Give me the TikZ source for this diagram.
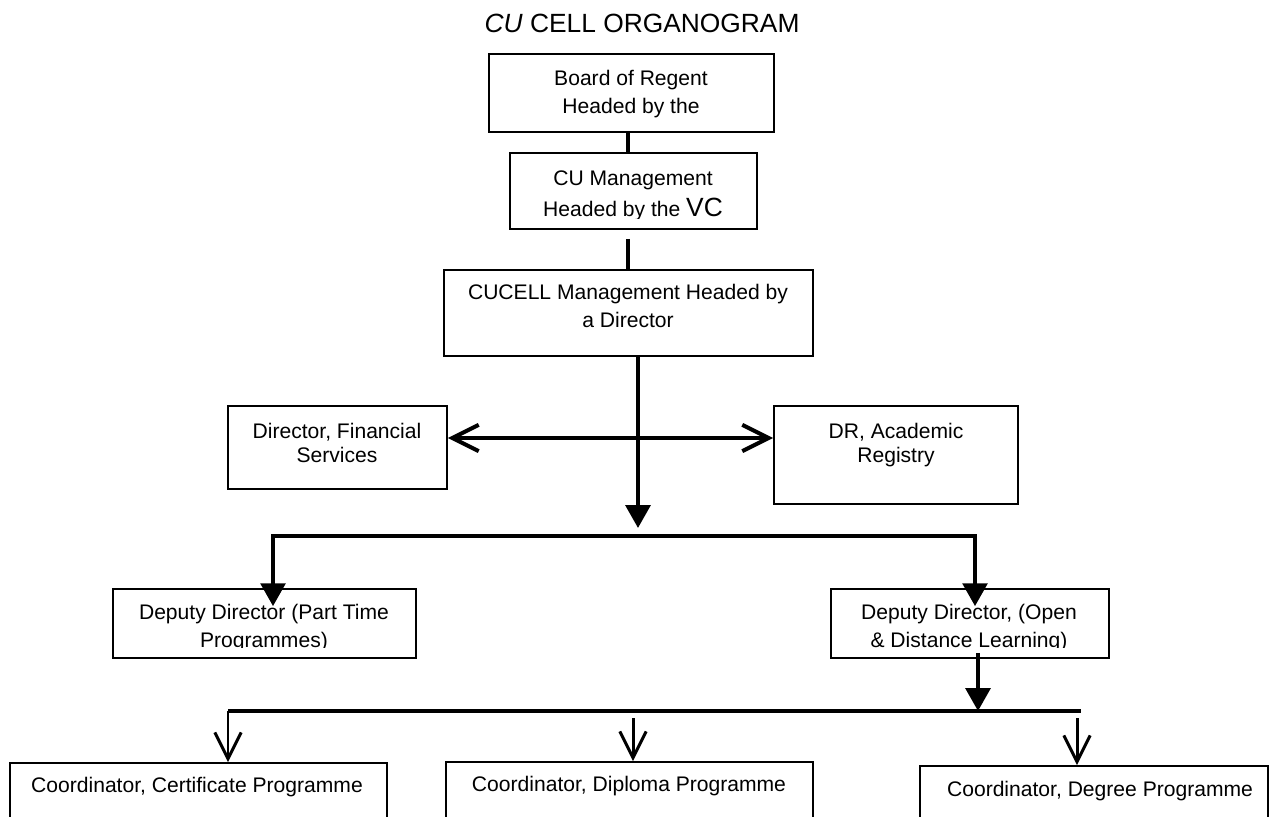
\documentclass[tikz,border=0pt]{standalone}
\usepackage{fontspec}
\setmainfont{Liberation Sans}
\usetikzlibrary{arrows.meta,fit,calc}

\begin{document}
\begin{tikzpicture}[x=0.02cm, y=-0.02cm,
    orgbox/.style={draw, line width=1pt, inner sep=0pt},
    txt/.style={align=center, inner sep=0pt, font=\fontsize{12}{15.5}\selectfont},
    conn/.style={line width=2.3pt},
    subconn/.style={line width=1.7pt},
    tri/.style={-{Triangle[length=13pt,width=14pt]}},
    bitri/.style={{Triangle[length=13pt,width=14pt]}-{Triangle[length=13pt,width=14pt]}},
    barb/.style={-{Straight Barb[length=15pt,width=15pt]}},
    bibarb/.style={{Straight Barb[length=15pt,width=15pt]}-{Straight Barb[length=15pt,width=15pt]}}]
    \useasboundingbox (0,0) rectangle (1270,816);
    \clip (0,0) rectangle (1270,816);
    \node[inner sep=0pt, font=\fontsize{15}{18}\selectfont] (title) at (642,23) {\textit{CU} CELL ORGANOGRAM};
    % boxes
    \node[orgbox, fit={(489,54) (774,132)}] (board) {};
    \node[orgbox, fit={(510,153) (757,229)}] (cumgmt) {};
    \node[orgbox, fit={(444,270) (813,356)}] (cucell) {};
    \node[orgbox, fit={(228,406) (447,489)}] (finbox) {};
    \node[orgbox, fit={(774,406) (1018,504)}] (drbox) {};
    \node[orgbox, fit={(113,589) (416,658)}] (ptbox) {};
    \node[orgbox, fit={(831,589) (1109,658)}] (odlbox) {};
    \node[orgbox, fit={(10,763) (387,830)}] (certbox) {};
    \node[orgbox, fit={(446,762) (813,830)}] (dipbox) {};
    \node[orgbox, fit={(920,766) (1268,830)}] (degbox) {};
    % texts
    \node[txt] (boardtxt) at (631,94) {Board of Regent\\Headed by the};
    \begin{scope}
      \clip (510,153) rectangle (757,218);
      \node[txt] (cumgmttxt) at (633,196) {CU Management\\[2.5pt]Headed by the {\fontsize{15}{18}\selectfont VC}};
    \end{scope}
    \node[txt] (cuceltxt) at (628,306) {CUCELL Management Headed by\\a Director};
    \node[txt, font=\fontsize{12}{14}\selectfont] (fintxt) at (337,443) {Director, Financial\\Services};
    \node[txt, font=\fontsize{12}{14}\selectfont] (drtxt) at (896,445) {DR, Academic\\Registry};
    \begin{scope}
      \clip (113,589) rectangle (1109,647.5);
      \node[txt] (pttxt) at (264,628) {Deputy Director (Part Time\\Programmes)};
      \node[txt] (odltxt) at (969,628) {Deputy Director, (Open\\\& Distance Learning)};
    \end{scope}
    \node[txt] (certtxt) at (197,787) {Coordinator, Certificate Programme};
    \node[txt] (diptxt) at (629,786) {Coordinator, Diploma Programme};
    \node[txt] (degtxt) at (1100,791) {Coordinator, Degree Programme};
    % connectors
    \coordinate (stem) at (628,0);
    \coordinate (split) at (638,528);
    \coordinate (hub) at (638,438);
    \coordinate (busL) at (273,536);
    \coordinate (busR) at (975,536);
    \coordinate (bustwoL) at (228,711);
    \coordinate (bustwoR) at (1081,711);
    \coordinate (odlout) at ($(odlbox.south)+(8,-6)$);
    \coordinate (dipin) at (633,718);
    \coordinate (degin) at (1077,718);
    \draw[conn] (board.south -| stem) -- (cumgmt.north -| stem);
    \draw[conn] ($(cumgmt.south -| stem)+(0,9)$) -- (cucell.north -| stem);
    \draw[conn, tri] (cucell.south -| split) -- (split);
    \draw[conn, bibarb] (finbox.east |- hub) -- (drbox.west |- hub);
    \draw[conn, bitri] ($(busL |- ptbox.north)+(0,18)$) -- (busL) -- (busR) -- ($(busR |- odlbox.north)+(0,18)$);
    \draw[conn, tri] (odlout) -- (odlout |- bustwoL);
    \draw[conn] (bustwoL) -- (bustwoR);
    \draw[subconn, barb] (bustwoL) -- (bustwoL |- certbox.north);
    \draw[subconn, barb] (dipin) -- (dipin |- dipbox.north);
    \draw[subconn, barb] (degin) -- (degin |- degbox.north);
\end{tikzpicture}
\end{document}
